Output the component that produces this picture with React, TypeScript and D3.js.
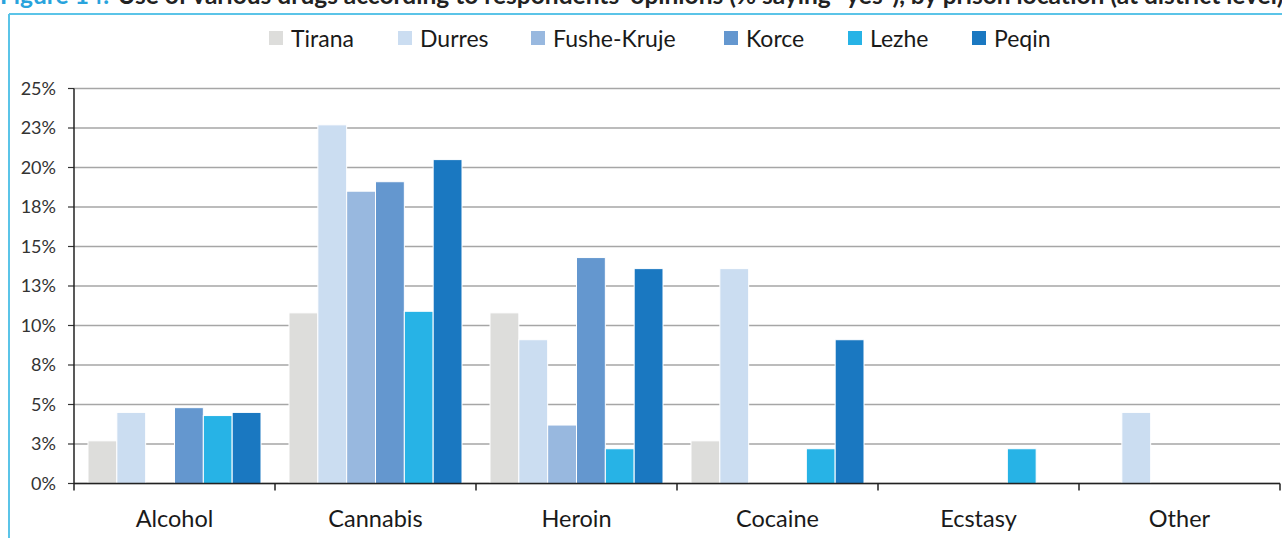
import * as d3 from "d3";

const categories = ["Alcohol", "Cannabis", "Heroin", "Cocaine", "Ecstasy", "Other"];
const series = ["Tirana", "Durres", "Fushe-Kruje", "Korce", "Lezhe", "Peqin"];
const colors = ["#DDDDDB", "#CBDDF1", "#98B8DF", "#6497CF", "#27B3E6", "#1A78C1"];

// % saying "yes", one array per prison location, in category order
const tirana = [2.7, 10.8, 10.8, 2.7, 0, 0];
const durres = [4.5, 22.7, 9.1, 13.6, 0, 4.5];
const fusheKruje = [0, 18.5, 3.7, 0, 0, 0];
const korce = [4.8, 19.1, 14.3, 0, 0, 0];
const lezhe = [4.3, 10.9, 2.2, 2.2, 2.2, 0];
const peqin = [4.5, 20.5, 13.6, 9.1, 0, 0];

const values = [tirana, durres, fusheKruje, korce, lezhe, peqin];
const yTicks = [0, 2.5, 5, 7.5, 10, 12.5, 15, 17.5, 20, 22.5, 25];

const W = 1282;
const H = 538;
const m = { left: 74, right: 2, top: 88.5, bottom: 54.5 };
const font = "Lato, 'Open Sans', sans-serif";
const legendX = [269, 398, 531, 724, 848, 972];

export default function App() {
  const x0 = d3.scaleBand().domain(categories).range([m.left, W - m.right]);
  const inset = 14;
  const x1 = d3.scaleBand().domain(series).range([inset, x0.bandwidth() - inset]);
  const y = d3.scaleLinear().domain([0, 25]).range([H - m.bottom, m.top]);
  const y0 = y(0);

  return (
    <svg width={W} height={H} style={{ position: "absolute", left: 0, top: 0, background: "#fff" }} fontFamily={font}>
      {/* caption, cut off at the top as in the source page */}
      <text x={0} y={4} fontSize={24.5} fontWeight="bold" fill="#222">
        <tspan fill="#29A3DC">Figure 14:</tspan>
        <tspan dx={8}>Use of various drugs according to respondents' opinions (% saying "yes"), by prison location (at district level)</tspan>
      </text>
      <line x1={9} x2={W} y1={14} y2={14} stroke="#5BC4E8" strokeWidth={2} />
      <line x1={9} x2={9} y1={14} y2={H} stroke="#5BC4E8" strokeWidth={2} />

      {/* legend */}
      {series.map((s, i) => (
        <g key={s} transform={`translate(${legendX[i]},31)`}>
          <rect width={14} height={14} fill={colors[i]} />
          <text x={22} y={15.5} fontSize={23} fill="#1a1a1a">{s}</text>
        </g>
      ))}

      {/* grid + y labels */}
      {yTicks.map((t) => (
        <g key={t}>
          <line x1={m.left} x2={W - m.right} y1={y(t)} y2={y(t)} stroke="#A6A6A6" strokeWidth={1.5} />
          <line x1={m.left - 6} x2={m.left} y1={y(t)} y2={y(t)} stroke="#333" strokeWidth={1.2} />
          <text x={m.left - 18} y={y(t)} dy="0.36em" textAnchor="end" fontSize={18} fill="#333">
            {Math.round(t)}%
          </text>
        </g>
      ))}

      {/* bars */}
      {categories.map((c, ci) => (
        <g key={c} transform={`translate(${x0(c)},0)`}>
          {series.map((s, si) => {
            const v = values[si][ci];
            if (!v) return null;
            return (
              <rect
                key={s}
                x={x1(s)}
                y={y(v)}
                width={x1.bandwidth()}
                height={y0 - y(v)}
                fill={colors[si]}
                stroke="#fff"
                strokeWidth={1}
              />
            );
          })}
        </g>
      ))}

      {/* axes */}
      <line x1={m.left} x2={m.left} y1={m.top} y2={y0} stroke="#222" strokeWidth={1.5} />
      <line x1={m.left} x2={W - m.right} y1={y0} y2={y0} stroke="#222" strokeWidth={1.5} />
      {[...categories.map((c) => x0(c) as number), W - m.right].map((xv, i) => (
        <line key={i} x1={xv} x2={xv} y1={y0} y2={y0 + 7} stroke="#222" strokeWidth={1.5} />
      ))}
      {categories.map((c) => (
        <text key={c} x={(x0(c) as number) + x0.bandwidth() / 2} y={527} textAnchor="middle" fontSize={23.5} fill="#1a1a1a">
          {c}
        </text>
      ))}
    </svg>
  );
}
